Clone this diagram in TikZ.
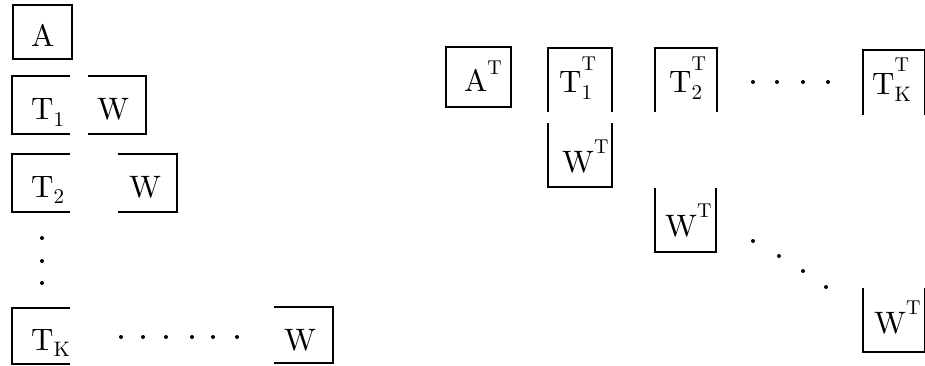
\documentclass[tikz,border=0pt]{standalone}
\usepackage{fontspec}
\setmainfont{lmroman10-regular.otf}
\newcommand\mysub[1]{\raisebox{-0.22em}{\fontsize{21}{21}\selectfont #1}}
\newcommand\mysup[2]{\raisebox{#1}{\fontsize{20}{20}\selectfont #2}}
\begin{document}
\begin{tikzpicture}[x=1pt,y=-1pt,
  brk/.style={line width=2.6pt, line cap=butt, line join=miter},
  lbl/.style={anchor=base west, inner sep=0pt, font=\fontsize{31}{36}\selectfont},
  dt/.style={circle, fill=black, inner sep=0pt, minimum size=4pt}]
\useasboundingbox (0,0) rectangle (925,366);
\clip (0,0) rectangle (925,366);
% ---------- left ----------
\draw[brk] (13,5) rectangle (72,59);
\node[lbl] (A) at (31,47) {A};
\draw[brk] (70,76) -- (12,76) -- (12,134) -- (70,134);
\node[lbl] (T1) at (31,120) {T\mysub{1}};
\draw[brk] (88,76) -- (146,76) -- (146,134) -- (88,134);
\node[lbl] (W1) at (97,120) {W};
\draw[brk] (70,154) -- (12,154) -- (12,212) -- (70,212);
\node[lbl] (T2) at (31,197) {T\mysub{2}};
\draw[brk] (118,154) -- (177,154) -- (177,212) -- (118,212);
\node[lbl] (W2) at (129,197) {W};
\node[dt] (v1) at (42,238) {};
\node[dt] (v2) at (42,261) {};
\node[dt] (v3) at (42,283) {};
\draw[brk] (70,308) -- (12,308) -- (12,364) -- (70,364);
\node[lbl] (TK) at (31,350) {T\mysub{K}};
\draw[brk] (274,307) -- (333,307) -- (333,363) -- (274,363);
\node[lbl] (WK) at (284,350) {W};
\foreach \x [count=\i] in {121,143,166,192,213,237} \node[dt] (h\i) at (\x,337) {};
% ---------- right ----------
\draw[brk] (446,47) rectangle (511,107);
\node[lbl] (AT) at (464,92) {A\mysup{0.55em}{T}};
\draw[brk] (548,112) -- (548,48) -- (612,48) -- (612,112);
\node[lbl] (T1T) at (559,93) {T\rlap{\mysub{1}}\mysup{0.72em}{T}};
\draw[brk] (548,123) -- (548,187) -- (612,187) -- (612,123);
\node[lbl] (W1T) at (562,172) {W\mysup{0.6em}{T}};
\draw[brk] (655,112) -- (655,48) -- (717,48) -- (717,112);
\node[lbl] (T2T) at (669,93) {T\rlap{\mysub{2}}\mysup{0.72em}{T}};
\draw[brk] (655,188) -- (655,252) -- (716,252) -- (716,188);
\node[lbl] (W2T) at (665,236) {W\mysup{0.6em}{T}};
\foreach \x [count=\i] in {753,777,803,828} \node[dt] (r\i) at (\x,82) {};
\draw[brk] (863,115) -- (863,50) -- (925,50) -- (925,115);
\node[lbl] (TKT) at (872,95) {T\rlap{\mysub{K}}\mysup{0.75em}{T}};
\draw[brk] (863,288) -- (863,352) -- (925,352) -- (925,288);
\node[lbl] (WKT) at (874,333) {W\mysup{0.6em}{T}};
\node[dt] (d1) at (753,241) {};
\node[dt] (d2) at (779,256) {};
\node[dt] (d3) at (803,271) {};
\node[dt] (d4) at (826,287) {};
\end{tikzpicture}
\end{document}
